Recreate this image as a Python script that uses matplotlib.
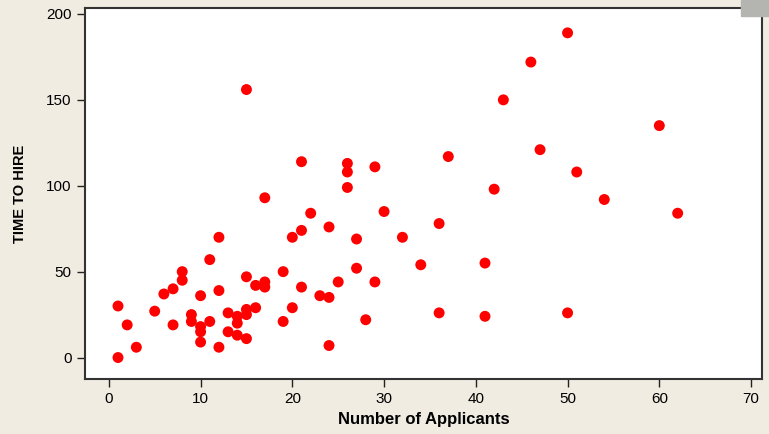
import matplotlib
matplotlib.use("Agg")
from matplotlib import pyplot as plt
from matplotlib.patches import Rectangle

# number of applicants per position
applicants = [1, 1, 2, 3, 5, 6, 7, 8, 8, 7, 9, 9, 10, 10, 10, 10, 11, 11,
              12, 12, 12, 13, 13, 14, 14, 14, 15, 15, 15, 15, 15, 16, 16,
              17, 17, 17, 19, 19, 20, 20, 21, 21, 21, 22, 23, 24, 24, 24,
              25, 26, 26, 26, 27, 27, 28, 29, 29, 30, 32, 34, 36, 36, 37,
              41, 41, 42, 43, 46, 47, 50, 50, 51, 54, 60, 62]
# time to hire (days)
time_to_hire = [0, 30, 19, 6, 27, 37, 40, 50, 45, 19, 25, 21, 36, 18, 15, 9,
                57, 21, 70, 39, 6, 26, 15, 24, 20, 13, 156, 47, 28, 25, 11,
                29, 42, 93, 44, 41, 50, 21, 70, 29, 114, 74, 41, 84, 36, 76,
                35, 7, 44, 113, 108, 99, 69, 52, 22, 111, 44, 85, 70, 54, 78,
                26, 117, 55, 24, 98, 150, 172, 121, 189, 26, 108, 92, 135, 84]

x_ticks = [0, 10, 20, 30, 40, 50, 60, 70]
y_ticks = [0, 50, 100, 150, 200]

plt.rcParams['font.family'] = ['Liberation Sans', 'DejaVu Sans']

fig = plt.figure(figsize=(7.69, 4.34), dpi=100)
fig.patch.set_facecolor('#f0ece2')
ax = fig.add_axes([0.1105, 0.1267, 0.8805, 0.855])
ax.set_facecolor('white')

ax.scatter(applicants, time_to_hire, s=62, color='red', edgecolors='none', zorder=3)

ax.set_xlim(-2.6, 71.2)
ax.set_ylim(-12.5, 203.5)
ax.set_xticks(x_ticks)
ax.set_yticks(y_ticks)
ax.tick_params(direction='out', length=6, width=1, colors='#222222',
               labelsize=11, labelcolor='black')

for s in ax.spines.values():
    s.set_color('#333333')
    s.set_linewidth(1.5)

ax.set_xlabel('Number of Applicants', fontsize=12, fontweight='bold', labelpad=4)
ax.set_ylabel('TIME TO HIRE', fontsize=10.5, fontweight='bold', labelpad=14)

# grey corner block seen in the original screenshot
fig.patches.append(Rectangle((741 / 769, 1 - 16 / 434), 28 / 769, 16 / 434,
                             transform=fig.transFigure, color='#b4b4b0',
                             zorder=5))

fig.savefig('out.png', dpi=100, facecolor=fig.get_facecolor())
